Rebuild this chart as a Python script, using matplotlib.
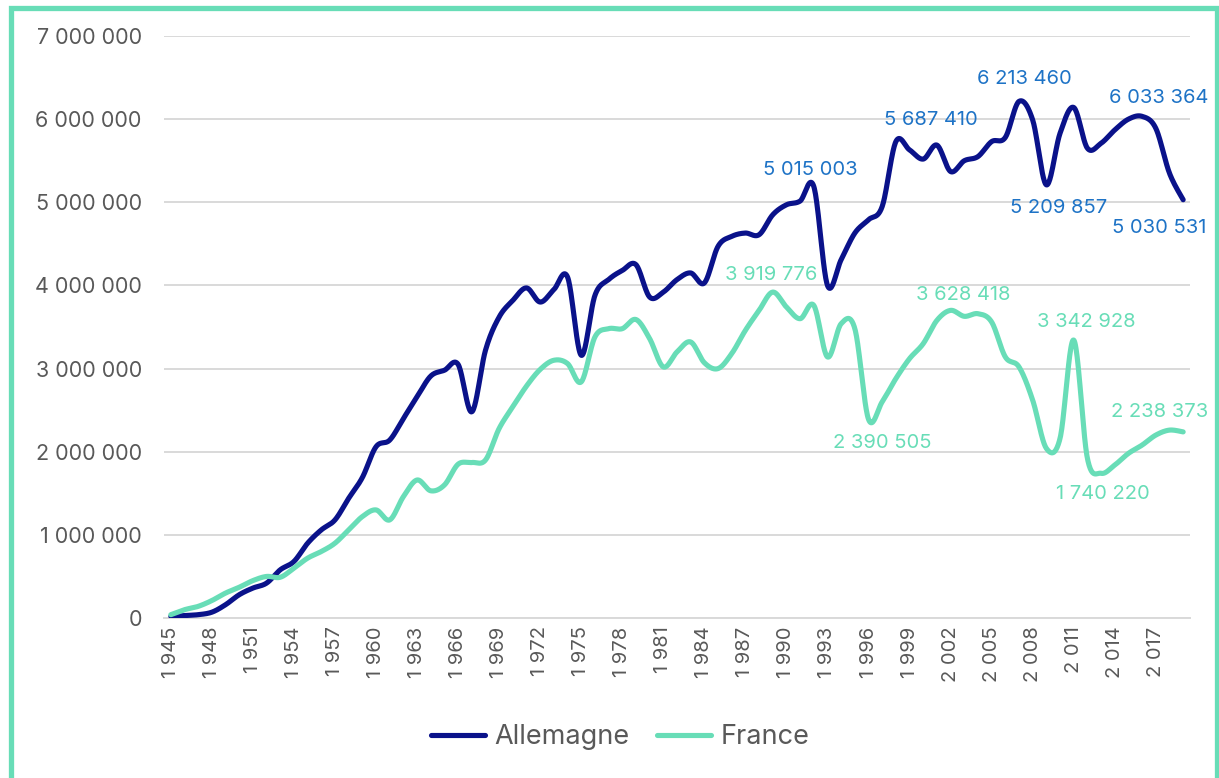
import matplotlib
matplotlib.use("Agg")
import matplotlib.pyplot as plt
import numpy as np
from matplotlib.patches import Rectangle
from matplotlib.ticker import FuncFormatter, FixedLocator

# ---------------- data ----------------
years = list(range(1945, 2020))

allemagne = [
    20000, 30000, 40000, 70000, 160000, 280000, 360000, 420000, 580000, 680000,      # 1945-1954
    900000, 1060000, 1180000, 1440000, 1690000, 2060000, 2140000, 2400000, 2660000, 2910000,  # 1955-1964
    2980000, 3050000, 2480000, 3220000, 3620000, 3820000, 3970000, 3800000, 3950000, 4100000,  # 1965-1974
    3160000, 3880000, 4070000, 4180000, 4250000, 3860000, 3920000, 4070000, 4150000, 4030000,  # 1975-1984
    4470000, 4590000, 4630000, 4610000, 4850000, 4970000, 5015003, 5190000, 4000000, 4310000,  # 1985-1994
    4630000, 4790000, 4950000, 5730000, 5630000, 5520000, 5687410, 5370000, 5500000, 5550000,  # 1995-2004
    5730000, 5780000, 6213460, 5990000, 5209857, 5830000, 6140000, 5650000, 5710000, 5870000,  # 2005-2014
    6000000, 6033364, 5890000, 5350000, 5030531,                                              # 2015-2019
]

france = [
    40000, 100000, 140000, 210000, 300000, 370000, 450000, 500000, 490000, 600000,    # 1945-1954
    720000, 800000, 900000, 1060000, 1220000, 1300000, 1180000, 1460000, 1660000, 1530000,  # 1955-1964
    1600000, 1850000, 1870000, 1900000, 2280000, 2540000, 2790000, 2990000, 3100000, 3060000,  # 1965-1974
    2840000, 3380000, 3480000, 3480000, 3590000, 3360000, 3020000, 3200000, 3320000, 3070000,  # 1975-1984
    3000000, 3180000, 3460000, 3700000, 3919776, 3740000, 3600000, 3760000, 3140000, 3540000,  # 1985-1994
    3480000, 2390505, 2600000, 2880000, 3120000, 3300000, 3580000, 3700000, 3628418, 3660000,  # 1995-2004
    3560000, 3140000, 3020000, 2620000, 2040000, 2160000, 3342928, 1920000, 1740220, 1840000,  # 2005-2014
    1980000, 2080000, 2200000, 2260000, 2238373,                                              # 2015-2019
]

series_names = ["Allemagne", "France"]
tick_years = list(range(1945, 2018, 3))
y_ticks = [0, 1000000, 2000000, 3000000, 4000000, 5000000, 6000000, 7000000]

# labelled points: (year, offset_x_pt, offset_y_pt)
labels_allemagne = [(1991, 7, 22), (2001, -4, 18), (2007, 4, 16),
                    (2016, 12, 13), (2009, 9, -17), (2019, -17, -20)]
labels_france = [(1989, -1, 12), (1996, 10, -17), (2003, -1, 15),
                 (2011, 9, 13), (2013, 1, -15), (2019, -17, 14)]

# ---------------- style ----------------
C_DE = "#0A128A"
C_DE_LBL = "#1E73C6"
C_FR = "#68DDB7"
C_TICK = "#595959"
C_GRID = "#D9D9D9"
FONT = ["Inter", "DejaVu Sans"]
plt.rcParams["font.family"] = FONT


def smooth(xs, ys, n=24):
    """Excel-like smoothed line (Catmull-Rom / cubic Bezier through points)."""
    x = np.asarray(xs, float)
    y = np.asarray(ys, float)
    P = np.column_stack([x, y])
    m = len(P)
    out = []
    t = np.linspace(0, 1, n, endpoint=False)[:, None]
    for i in range(m - 1):
        p0 = P[i]
        p3 = P[i + 1]
        pm = P[i - 1] if i > 0 else P[i]
        pp = P[i + 2] if i + 2 < m else P[i + 1]
        c1 = p0 + (p3 - pm) / 6.0
        c2 = p3 - (pp - p0) / 6.0
        seg = ((1 - t) ** 3) * p0 + 3 * ((1 - t) ** 2) * t * c1 + 3 * (1 - t) * t ** 2 * c2 + t ** 3 * p3
        out.append(seg)
    out.append(P[-1:])
    pts = np.vstack(out)
    return pts[:, 0], pts[:, 1]


fig = plt.figure(figsize=(12.19, 7.78), dpi=100)
ax = fig.add_axes([164 / 1219, 1 - 618 / 778, (1190 - 164) / 1219, (618 - 36) / 778])

xd, yd = smooth(years, allemagne)
xf, yf = smooth(years, france)
ax.plot(xd, yd, color=C_DE, lw=3.7, solid_capstyle="round", label=series_names[0], zorder=3)
ax.plot(xf, yf, color=C_FR, lw=3.7, solid_capstyle="round", label=series_names[1], zorder=3)

ax.set_xlim(1944.5, 2019.5)
ax.set_ylim(0, 7000000)

ax.yaxis.set_major_locator(FixedLocator(y_ticks))
ax.yaxis.set_major_formatter(FuncFormatter(lambda v, p: f"{int(v):,}".replace(",", " ")))
ax.xaxis.set_major_locator(FixedLocator(tick_years))
ax.xaxis.set_major_formatter(FuncFormatter(lambda v, p: f"{int(round(v)):,}".replace(",", " ")))

ax.grid(axis="y", color=C_GRID, lw=1.4)
ax.set_axisbelow(True)
for s in ["left", "right", "top"]:
    ax.spines[s].set_visible(False)
ax.spines["bottom"].set_color(C_GRID)
ax.spines["bottom"].set_linewidth(1.4)

ax.tick_params(axis="y", length=0, pad=16, labelsize=15.5, labelcolor=C_TICK)
ax.tick_params(axis="x", length=0, pad=6, labelsize=14.5, labelcolor=C_TICK, labelrotation=90)

# data labels
def fmt(v):
    return f"{int(v):,}".replace(",", " ")

for yr, dx, dy in labels_allemagne:
    v = allemagne[years.index(yr)]
    ax.annotate(fmt(v), xy=(yr, v), xytext=(dx, dy), textcoords="offset points",
                ha="center", va="center", color=C_DE_LBL, fontsize=14.5, zorder=5)
for yr, dx, dy in labels_france:
    v = france[years.index(yr)]
    ax.annotate(fmt(v), xy=(yr, v), xytext=(dx, dy), textcoords="offset points",
                ha="center", va="center", color=C_FR, fontsize=14.5, zorder=5)

fig.legend(loc="center", bbox_to_anchor=(620 / 1219, 1 - 737 / 778), ncol=2, frameon=False,
           fontsize=19.5, handlelength=2.0, handletextpad=0.35, columnspacing=1.0,
           labelcolor=C_TICK)

# outer frame
fig.patches.append(Rectangle((10.5 / 1219, -0.05), (1216.5 - 10.5) / 1219, 1.05 - 8 / 778,
                             transform=fig.transFigure, fill=False, edgecolor=C_FR, lw=3.8,
                             zorder=10))

fig.savefig("out.png", dpi=100)
